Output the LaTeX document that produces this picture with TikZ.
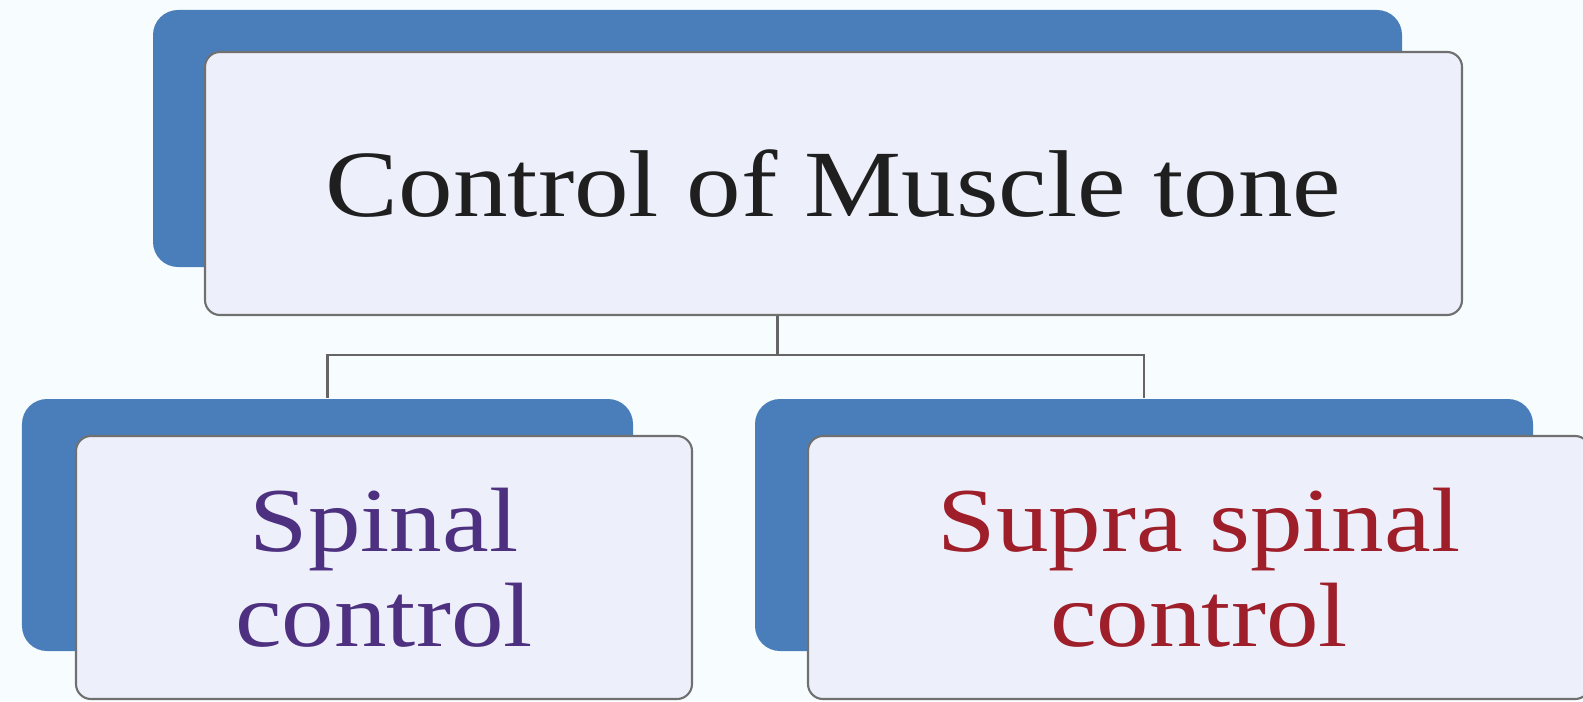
\documentclass[tikz,border=0pt]{standalone}
\usepackage{fontspec}
\setmainfont[FakeStretch=1.15]{Liberation Serif}
\definecolor{boxblue}{RGB}{74,126,187}
\definecolor{boxfill}{RGB}{237,240,250}
\definecolor{boxline}{RGB}{112,112,112}
\definecolor{spinalpurple}{RGB}{78,48,128}
\definecolor{suprared}{RGB}{158,30,42}
\tikzset{
  backbox/.style={fill=boxblue, rounded corners=0.25cm, inner sep=0pt},
  frontbox/.style={fill=boxfill, draw=boxline, line width=0.6pt, rounded corners=0.15cm, inner sep=0pt, align=center},
  link/.style={draw=boxline!90!black, line width=0.8pt}
}
\begin{document}
\begin{tikzpicture}
          \fill[white!97!cyan] (0,0) rectangle (15.83,7.01);
          \useasboundingbox (0,0) rectangle (15.83,7.01);

          % top box
          \node[backbox, minimum width=12.49cm, minimum height=2.57cm] (topback) at (7.775,5.625) {};
          \node[frontbox, minimum width=12.57cm, minimum height=2.63cm, text=black!88,
            font=\fontsize{27}{27}\selectfont] (topfront) at (8.335,5.175) {Control of Muscle tone};

          % lower boxes
          \node[backbox, minimum width=6.11cm, minimum height=2.52cm] (leftback) at (3.275,1.76) {};
          \node[frontbox, minimum width=6.16cm, minimum height=2.63cm, text=spinalpurple,
            font=\fontsize{26}{27}\selectfont] (leftfront) at (3.84,1.335) {Spinal\\control};

          \node[backbox, minimum width=7.78cm, minimum height=2.52cm] (rightback) at (11.44,1.76) {};
          \node[frontbox, minimum width=7.82cm, minimum height=2.63cm, text=suprared,
            font=\fontsize{26}{27}\selectfont] (rightfront) at (11.99,1.335) {Supra spinal\\control};

          \coordinate (fork) at (topback.center |- 0,3.46);
          \draw[link] (topback.center |- topfront.south) -- (fork);
          \foreach \child in {leftback,rightback}{
            \draw[link] (fork) -| (\child.north);
          }
\end{tikzpicture}
\end{document}
